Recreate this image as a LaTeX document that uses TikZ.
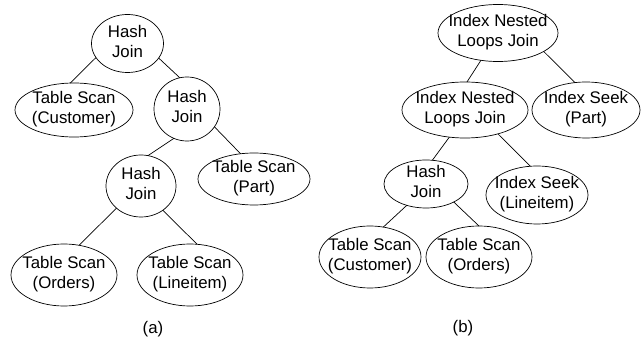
\documentclass[tikz,border=0pt]{standalone}
\usepackage{fontspec}
\setmainfont{Liberation Sans}
\usetikzlibrary{shapes.geometric}
\newcommand\optext[1]{\smash{\makebox[0pt]{\raisebox{-4pt}{\begin{tabular}{@{}c@{}}#1\end{tabular}}}}}
\begin{document}
\begin{tikzpicture}[x=1pt,y=-1pt,
  op/.style={draw, ellipse, line width=0.7pt, inner sep=0pt, outer sep=0pt,
    font=\fontsize{16.8}{20}\selectfont},
  edge/.style={line width=0.7pt},
  caption/.style={font=\fontsize{16.8}{20}\selectfont}]
\useasboundingbox (0,0) rectangle (641,339);
% (a)
\node[op, minimum width=72pt, minimum height=58pt] (ahj1) at (127.5,43.5) {\optext{Hash\\Join}};
\node[op, minimum width=118pt, minimum height=54pt] (acust) at (74,110) {\optext{Table Scan\\(Customer)}};
\node[op, minimum width=66pt, minimum height=64pt] (ahj2) at (187,109) {\optext{Hash\\Join}};
\node[op, minimum width=70pt, minimum height=62pt] (ahj3) at (141,186) {\optext{Hash\\Join}};
\node[op, minimum width=112pt, minimum height=52pt] (apart) at (254,179) {\optext{Table Scan\\(Part)}};
\node[op, minimum width=106pt, minimum height=62pt] (aord) at (64,275) {\optext{Table Scan\\(Orders)}};
\node[op, minimum width=106pt, minimum height=62pt] (alin) at (190,275) {\optext{Table Scan\\(Lineitem)}};
\draw[edge] (ahj1.204) -- (acust.98);
\draw[edge] (ahj1.335) -- (ahj2.103);
\draw[edge] (ahj2.246) -- (ahj3.77);
\draw[edge] (ahj2.327) -- (apart.118);
\draw[edge] (ahj3.222) -- (aord.63);
\draw[edge] (ahj3.312) -- (alin.77);
\node[caption] (capa) at (153,329) {(a)};
% (b)
\node[op, minimum width=120pt, minimum height=57pt] (binl1) at (498,33) {\optext{Index Nested\\Loops Join}};
\node[op, minimum width=126pt, minimum height=56pt] (binl2) at (465,110) {\optext{Index Nested\\Loops Join}};
\node[op, minimum width=108pt, minimum height=56pt] (bisp) at (586,110) {\optext{Index Seek\\(Part)}};
\node[op, minimum width=84pt, minimum height=48pt] (bhj) at (426,184) {\optext{Hash\\Join}};
\node[op, minimum width=102pt, minimum height=58pt] (bisl) at (537,195) {\optext{Index Seek\\(Lineitem)}};
\node[op, minimum width=102pt, minimum height=62pt] (bcust) at (370,257) {\optext{Table Scan\\(Customer)}};
\node[op, minimum width=106pt, minimum height=62pt] (bord) at (479,257) {\optext{Table Scan\\(Orders)}};
\draw[edge] (binl1.238) -- (binl2.86);
\draw[edge] (binl1.338) -- (bisp.112);
\draw[edge] (binl2.240) -- (bhj.75);
\draw[edge] (binl2.324) -- (bisl.103);
\draw[edge] (bhj.228) -- (bcust.66);
\draw[edge] (bhj.327) -- (bord.90);
\node[caption] (capb) at (463,328) {(b)};
\end{tikzpicture}
\end{document}
